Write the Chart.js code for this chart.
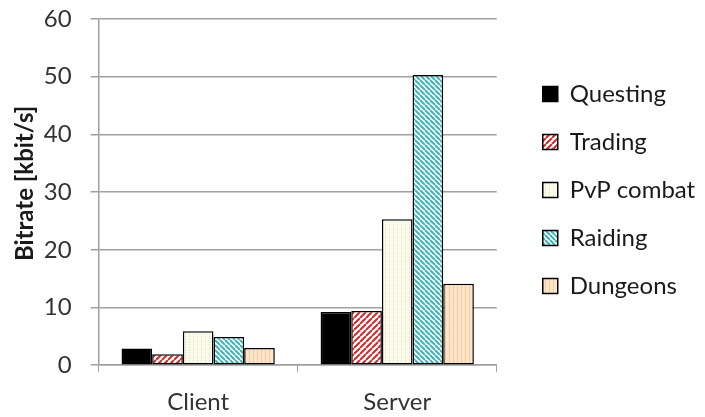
<!DOCTYPE html>
<html lang="en">

<head>
    <meta charset="UTF-8">
    <script src="https://cdn.jsdelivr.net/npm/chart.js"></script>
    <title>Bitrate</title>
    <style>
        body { margin: 0; background: #fff; }
    </style>
</head>

<body>

    <canvas id="myChart" width="705" height="417"></canvas>

    <script>

        const categories = ['Client', 'Server'];
        const questing = [2.9, 9.2];
        const trading = [1.9, 9.4];
        const pvpCombat = [5.9, 25.3];
        const raiding = [4.9, 50.3];
        const dungeons = [3.0, 14.1];

        // small tiles used as bar fills
        function stripes(bg, fg, size, draw) {
            const c = document.createElement('canvas');
            c.width = size;
            c.height = size;
            const g = c.getContext('2d');
            g.fillStyle = bg;
            g.fillRect(0, 0, size, size);
            g.strokeStyle = fg;
            g.fillStyle = fg;
            draw(g, size);
            return document.getElementById('myChart').getContext('2d').createPattern(c, 'repeat');
        }

        const redHatch = stripes('#ffffff', '#d42a2a', 6, (g, s) => {
            g.lineWidth = 2;
            g.beginPath();
            for (let k = -1; k <= 1; k++) {
                g.moveTo(k * s, s);
                g.lineTo(k * s + s, 0);
            }
            g.stroke();
        });
        const tealHatch = stripes('#ffffff', '#3cb4b8', 5, (g, s) => {
            g.lineWidth = 2;
            g.beginPath();
            for (let k = -1; k <= 1; k++) {
                g.moveTo(k * s, 0);
                g.lineTo(k * s + s, s);
            }
            g.stroke();
        });
        const creamDots = stripes('#fbfbec', '#e4e4c8', 4, (g) => {
            g.fillRect(1, 0, 1, 1);
            g.fillRect(1, 2, 1, 1);
        });
        const peachLines = stripes('#fee6cc', '#f6c8a0', 4, (g) => {
            g.fillRect(1, 0, 1, 4);
        });

        const ctx = document.getElementById('myChart');
        const font = 'Lato, "Open Sans", sans-serif';

        function ds(label, data, fill) {
            return {
                label: label,
                data: data,
                backgroundColor: fill,
                borderColor: '#000000',
                borderWidth: 1.5,
                borderSkipped: false,
                categoryPercentage: 0.77,
                barPercentage: 1.0
            };
        }

        // push the legend a bit further away from the plot
        const legendShift = {
            id: 'legendShift',
            afterLayout(chart) {
                chart.legend.left += 22;
                chart.legend.right = chart.width;
            }
        };

        new Chart(ctx, {
            type: 'bar',
            data: {
                labels: categories,
                datasets: [
                    ds('Questing', questing, '#000000'),
                    ds('Trading', trading, redHatch),
                    ds('PvP combat', pvpCombat, creamDots),
                    ds('Raiding', raiding, tealHatch),
                    ds('Dungeons', dungeons, peachLines)
                ]
            },
            plugins: [legendShift],
            options: {
                responsive: false,
                animation: false,
                layout: { padding: { top: 0, right: 45, left: 7, bottom: 0 } },
                plugins: {
                    tooltip: { enabled: false },
                    legend: {
                        position: 'right',
                        align: 'start',
                        title: {
                            display: true,
                            text: ' ',
                            font: { size: 10 },
                            padding: { top: 46, bottom: 0 }
                        },
                        labels: {
                            boxWidth: 15,
                            boxHeight: 15,
                            padding: 24,
                            color: '#1a1a1a',
                            font: { family: font, size: 24 }
                        }
                    }
                },
                scales: {
                    x: {
                        afterFit(scale) {
                            scale.height -= 16;
                        },
                        grid: {
                            drawOnChartArea: false,
                            drawTicks: true,
                            tickLength: 7,
                            color: '#a0a0a0'
                        },
                        border: { color: '#a0a0a0', width: 1.5 },
                        ticks: {
                            color: '#333333',
                            padding: 16,
                            font: { family: font, size: 24 }
                        }
                    },
                    y: {
                        min: 0,
                        max: 60,
                        afterFit(scale) {
                            scale.width -= 19;
                            scale.paddingTop = 19;
                        },
                        grid: {
                            color: '#a0a0a0',
                            lineWidth: 1.5,
                            tickLength: 8
                        },
                        border: { color: '#a0a0a0', width: 1.5 },
                        ticks: {
                            stepSize: 10,
                            color: '#333333',
                            padding: 19,
                            font: { family: font, size: 24 }
                        },
                        title: {
                            display: true,
                            text: '   Bitrate [kbit/s]',
                            color: '#1a1a1a',
                            padding: 4,
                            font: { family: font, size: 24, weight: 'bold' }
                        }
                    }
                }
            }
        });

    </script>

</body>

</html>
